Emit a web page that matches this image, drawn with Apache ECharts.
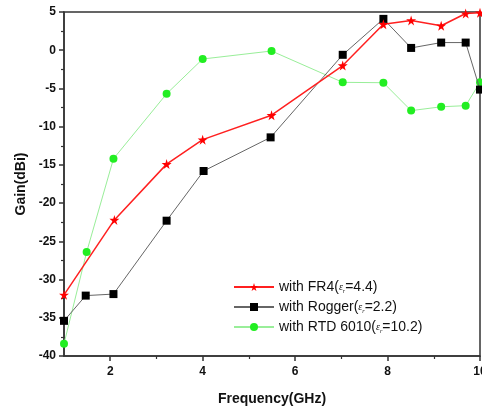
<!DOCTYPE html>
<html>
<head>
<meta charset="utf-8">
<script src="https://cdn.jsdelivr.net/npm/echarts@6/dist/echarts.min.js"></script>
<style>html,body{margin:0;padding:0;background:#fff;}#c{width:482px;height:408px;}</style>
</head>
<body>
<div id="c"></div>
<script>
var xTicks = [2, 4, 6, 8, 10];
var xMinorTicks = [3, 5, 7, 9];

var freqFR4 = [1, 2.09, 3.22, 4.0, 5.49, 7.03, 7.91, 8.51, 9.16, 9.69, 10];
var gainFR4 = [-32.0, -22.2, -14.9, -11.7, -8.5, -2.0, 3.4, 3.9, 3.2, 4.8, 4.9];

var freqRogger = [1, 1.47, 2.07, 3.22, 4.02, 5.47, 7.03, 7.91, 8.51, 9.16, 9.69, 10];
var gainRogger = [-35.4, -32.1, -31.9, -22.3, -15.8, -11.4, -0.6, 4.1, 0.3, 1.0, 1.0, -5.15];

var freqRTD = [1, 1.49, 2.07, 3.22, 4.0, 5.49, 7.03, 7.91, 8.51, 9.16, 9.69, 10];
var gainRTD = [-38.4, -26.4, -14.2, -5.7, -1.15, -0.1, -4.2, -4.25, -7.9, -7.4, -7.25, -4.2];

var names = ['with FR4', 'with Rogger', 'with RTD 6010'];
var epsValues = ['4.4', '2.2', '10.2'];

function pairs(xs, ys) { return xs.map(function (x, i) { return [x, ys[i]]; }); }

var star = 'path://M50,0 L61,35 L98,35 L68,57 L79,91 L50,70 L21,91 L32,57 L2,35 L39,35 Z';
var font = 'Arial, "Liberation Sans", sans-serif';

var chart = echarts.init(document.getElementById('c'), null, {renderer: 'canvas'});
chart.setOption({
  animation: false,
  backgroundColor: '#fff',
  grid: {left: 64, right: 2, top: 12, bottom: 52, outerBoundsMode: 'none', containLabel: false,
    show: true, borderColor: '#333', borderWidth: 1.5, backgroundColor: 'transparent'},
  legend: {
    orient: 'vertical', left: 228, top: 275, itemGap: 6, itemWidth: 40, itemHeight: 10,
    data: names,
    formatter: function (n) {
      var i = names.indexOf(n);
      return '{a|' + n + '(}{e|ε}{s|r}{a|=' + epsValues[i] + ')}';
    },
    textStyle: {
      rich: {
        a: {fontFamily: font, fontSize: 14, color: '#111', lineHeight: 14},
        e: {fontFamily: 'Liberation Serif, serif', fontStyle: 'italic', fontSize: 10, color: '#111', lineHeight: 14},
        s: {fontFamily: 'Liberation Serif, serif', fontStyle: 'italic', fontSize: 6, color: '#111', verticalAlign: 'bottom', lineHeight: 10}
      }
    }
  },
  xAxis: [{
    type: 'value', min: 1, max: 10, position: 'bottom',
    name: 'Frequency(GHz)', nameLocation: 'middle', nameGap: 36,
    nameTextStyle: {fontFamily: font, fontWeight: 'bold', fontSize: 14, color: '#111'},
    axisLine: {show: true, onZero: false, lineStyle: {color: '#333', width: 1.5}},
    axisTick: {show: true, inside: false, length: 5, customValues: xTicks, lineStyle: {color: '#333', width: 1.5}},
    axisLabel: {customValues: xTicks, fontFamily: font, fontWeight: 'bold', fontSize: 12, color: '#111', margin: 10},
    splitLine: {show: false}
  }, {
    type: 'value', min: 1, max: 10, position: 'bottom',
    axisLine: {show: false, onZero: false},
    axisTick: {show: true, inside: false, length: 3, customValues: xMinorTicks, lineStyle: {color: '#333', width: 1.2}},
    axisLabel: {show: false},
    splitLine: {show: false}
  }],
  yAxis: {
    type: 'value', min: -40, max: 5, interval: 5,
    name: 'Gain(dBi)', nameLocation: 'middle', nameGap: 33, nameRotate: 90,
    nameTextStyle: {fontFamily: font, fontWeight: 'bold', fontSize: 14, color: '#111'},
    axisLine: {show: true, onZero: false, lineStyle: {color: '#333', width: 1.5}},
    axisTick: {show: true, inside: false, length: 5, lineStyle: {color: '#333', width: 1.5}},
    minorTick: {show: true, splitNumber: 2, length: 3, lineStyle: {color: '#333', width: 1.2}},
    axisLabel: {fontFamily: font, fontWeight: 'bold', fontSize: 12, color: '#111', margin: 8},
    splitLine: {show: false}
  },
  series: [{
    name: names[0], type: 'line', data: pairs(freqFR4, gainFR4),
    symbol: star, symbolSize: 10, itemStyle: {color: '#ff0000'},
    lineStyle: {color: '#ff2020', width: 1.5}, z: 4
  }, {
    name: names[1], type: 'line', data: pairs(freqRogger, gainRogger),
    symbol: 'rect', symbolSize: 8, itemStyle: {color: '#000'},
    lineStyle: {color: '#666', width: 1}, z: 3
  }, {
    name: names[2], type: 'line', data: pairs(freqRTD, gainRTD),
    symbol: 'circle', symbolSize: 8, itemStyle: {color: '#22ee22'},
    lineStyle: {color: '#99ee99', width: 1}, z: 2
  }]
});
</script>
</body>
</html>
